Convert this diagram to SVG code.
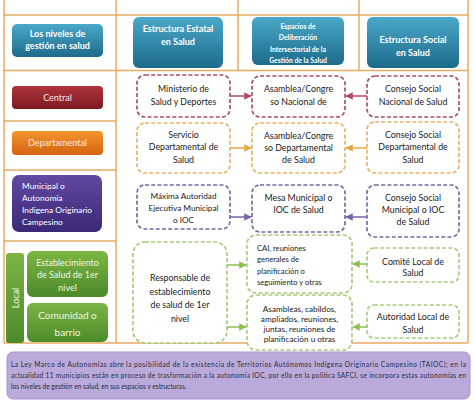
<svg xmlns="http://www.w3.org/2000/svg" width="474" height="401" viewBox="0 0 474 401">
<defs>
<linearGradient id="gTeal" x1="0" y1="0" x2="0" y2="1"><stop offset="0" stop-color="#4aa8c8"/><stop offset="1" stop-color="#1d6b8a"/></linearGradient>
<linearGradient id="gRed" x1="0" y1="0" x2="0" y2="1"><stop offset="0" stop-color="#b0343b"/><stop offset="1" stop-color="#7c1a22"/></linearGradient>
<linearGradient id="gOrange" x1="0" y1="0" x2="0" y2="1"><stop offset="0" stop-color="#f3952e"/><stop offset="1" stop-color="#d4630f"/></linearGradient>
<linearGradient id="gPurple" x1="0" y1="0" x2="0" y2="1"><stop offset="0" stop-color="#6248a2"/><stop offset="1" stop-color="#3b2876"/></linearGradient>
<linearGradient id="gGreen" x1="0" y1="0" x2="0" y2="1"><stop offset="0" stop-color="#7db545"/><stop offset="1" stop-color="#4c8a2a"/></linearGradient>
<marker id="aRed" viewBox="0 0 10 10" refX="9" refY="5" markerWidth="5" markerHeight="5" orient="auto"><path d="M0,0 L10,5 L0,10 z" fill="#b04a5e"/></marker>
<marker id="aOrange" viewBox="0 0 10 10" refX="9" refY="5" markerWidth="5" markerHeight="5" orient="auto"><path d="M0,0 L10,5 L0,10 z" fill="#e8a644"/></marker>
<marker id="aPurple" viewBox="0 0 10 10" refX="9" refY="5" markerWidth="5" markerHeight="5" orient="auto"><path d="M0,0 L10,5 L0,10 z" fill="#7a62aa"/></marker>
<marker id="aGreen" viewBox="0 0 10 10" refX="9" refY="5" markerWidth="5" markerHeight="5" orient="auto"><path d="M0,0 L10,5 L0,10 z" fill="#8cc04e"/></marker>
</defs>
<style>
text{font-family:Lato,"Open Sans","Liberation Sans",sans-serif;}
.grid{stroke:#eaaa62;stroke-width:1.5;fill:none;}
.hd{fill:#fff;font-weight:bold;font-size:9px;text-anchor:middle;}
.hs{fill:#fff;font-weight:bold;font-size:6.8px;text-anchor:middle;}
.lv{fill:#fbe9e6;font-size:9px;text-anchor:middle;}
.lw{fill:#fff;font-size:8.4px;}
.lg{fill:#eef6e2;font-size:9px;text-anchor:middle;}
.bx{fill:#fff;stroke-width:1.7;stroke-dasharray:4 2.2;}
.bRed{stroke:#a8506c;}
.bOrange{stroke:#e6b468;}
.bPurple{stroke:#7a6aa2;}
.bGreen{stroke:#a9cc7c;}
.t{fill:#1a1a1a;font-size:8.8px;text-anchor:middle;}
.ts{fill:#1a1a1a;font-size:7.6px;}
.c{fill:none;stroke-width:1.5;}
.note{fill:#2a2a3a;font-size:6.6px;}
</style>
<rect width="474" height="401" fill="#fff"/>
<g id="grid">
<line class="grid" x1="4" y1="15" x2="468" y2="15"/>
<line class="grid" x1="4" y1="70.5" x2="468" y2="70.5"/>
<line class="grid" x1="4" y1="121" x2="116" y2="121"/>
<line class="grid" x1="4" y1="170" x2="116" y2="170"/>
<line class="grid" x1="4" y1="241" x2="116" y2="241"/>
<line class="grid" x1="4" y1="0" x2="4" y2="343"/>
<line class="grid" x1="116" y1="0" x2="116" y2="343"/>
<line class="grid" x1="238" y1="0" x2="238" y2="70.5"/>
<line class="grid" x1="359" y1="0" x2="359" y2="70.5"/>
<line class="grid" x1="468" y1="0" x2="468" y2="343"/>
<line class="grid" x1="4" y1="343" x2="468" y2="343"/>
</g>
<g id="hdr-niveles"><rect x="12" y="24" width="91" height="33" rx="5" fill="url(#gTeal)"/><text class="hd" x="57.5" y="37">Los niveles de</text><text class="hd" x="57.5" y="48.5">gestión en salud</text></g>
<g id="hdr-estatal"><rect x="133" y="17" width="90" height="51" rx="6" fill="url(#gTeal)"/><text class="hd" x="178" y="32">Estructura Estatal</text><text class="hd" x="178" y="45">en  Salud</text></g>
<g id="hdr-espacios"><rect x="252" y="17" width="92" height="48" rx="6" fill="url(#gTeal)"/><text class="hs" x="298" y="28.5">Espacios de</text><text class="hs" x="298" y="40">Deliberación</text><text class="hs" x="298" y="51.5">Intersectorial de la</text><text class="hs" x="298" y="62.5">Gestión de la Salud</text></g>
<g id="hdr-social"><rect x="367" y="17" width="92" height="51" rx="6" fill="url(#gTeal)"/><text class="hd" x="413" y="43">Estructura Social</text><text class="hd" x="413" y="56">en  Salud</text></g>
<g id="lv-central"><rect x="12" y="86" width="91" height="23" rx="4" fill="url(#gRed)"/><text class="lv" x="57.5" y="100.5">Central</text></g>
<g id="lv-departamental"><rect x="12" y="131" width="91" height="24" rx="4" fill="url(#gOrange)"/><text class="lv" x="57.5" y="146">Departamental</text></g>
<g id="lv-municipal"><rect x="12" y="175" width="90" height="57" rx="7" fill="url(#gPurple)"/><text class="lw" x="22" y="189">Municipal o</text><text class="lw" x="22" y="201">Autonomía</text><text class="lw" x="22" y="213">Indigena Originario</text><text class="lw" x="22" y="225">Campesino</text></g>
<g id="lv-local"><rect x="6" y="253" width="18" height="90" rx="3" fill="url(#gGreen)"/><text class="lg" transform="translate(18.5,298) rotate(-90)">Local</text></g>
<g id="lv-establecimiento"><rect x="27" y="251" width="81" height="46" rx="6" fill="url(#gGreen)"/><text class="lg" x="67.5" y="266">Establecimiento</text><text class="lg" x="67.5" y="278">de Salud de 1er</text><text class="lg" x="67.5" y="290.5">nivel</text></g>
<g id="lv-comunidad"><rect x="27" y="303" width="81" height="39" rx="6" fill="url(#gGreen)"/><text class="lg" x="67.5" y="319" style="font-size:10px">Comunidad o</text><text class="lg" x="67.5" y="336" style="font-size:10px">barrio</text></g>
<g id="n-ministerio"><rect class="bx bRed" x="137" y="75" width="93" height="42" rx="8"/><text class="t" x="183.5" y="92">Ministerio de</text><text class="t" x="183.5" y="105">Salud y Deportes</text></g>
<g id="n-servicio"><rect class="bx bOrange" x="137" y="123" width="93" height="50" rx="8"/><text class="t" x="183.5" y="137.5">Servicio</text><text class="t" x="183.5" y="150">Departamental de</text><text class="t" x="183.5" y="162.5">Salud</text></g>
<g id="n-maxima"><rect class="bx bPurple" x="137" y="185" width="93" height="44" rx="8"/><text class="t" x="183.5" y="198.5" style="font-size:8.2px">Máxima Autoridad</text><text class="t" x="183.5" y="210.5" style="font-size:8.2px">Ejecutiva Municipal</text><text class="t" x="183.5" y="222.5" style="font-size:8.2px">o IOC</text></g>
<g id="n-responsable"><rect class="bx bGreen" x="133" y="242" width="94" height="101" rx="12"/><text class="t" x="180" y="281">Responsable de</text><text class="t" x="180" y="294.5">establecimiento</text><text class="t" x="180" y="308">de salud de 1er</text><text class="t" x="180" y="321.5">nivel</text></g>
<g id="n-asamblea-nac"><rect class="bx bRed" x="252" y="76" width="93" height="41" rx="8"/><text class="t" x="298.5" y="92">Asamblea/Congre</text><text class="t" x="298.5" y="105">so Nacional de</text></g>
<g id="n-asamblea-dep"><rect class="bx bOrange" x="252" y="123" width="93" height="50" rx="8"/><text class="t" x="298.5" y="139">Asamblea/Congre</text><text class="t" x="298.5" y="151">so Departamental</text><text class="t" x="298.5" y="163">de Salud</text></g>
<g id="n-mesa"><rect class="bx bPurple" x="252" y="185" width="93" height="47" rx="8"/><text class="t" x="298.5" y="200.5">Mesa Municipal o</text><text class="t" x="298.5" y="212.5">IOC de Salud</text></g>
<g id="n-cai"><rect class="bx bGreen" x="247" y="235" width="105" height="58" rx="9"/><text class="ts" x="257" y="250.5">CAI, reuniones</text><text class="ts" x="257" y="262">generales de</text><text class="ts" x="257" y="273.5">planificación o</text><text class="ts" x="257" y="285">seguimiento y otras</text></g>
<g id="n-asambleas"><rect class="bx bGreen" x="247" y="295" width="105" height="55" rx="9"/><text class="t" x="299.5" y="311.5" style="font-size:8.2px">Asambleas, cabildos,</text><text class="t" x="299.5" y="321.5" style="font-size:8.2px">ampliados, reuniones,</text><text class="t" x="299.5" y="331.5" style="font-size:8.2px">juntas, reuniones de</text><text class="t" x="299.5" y="341.5" style="font-size:8.2px">planificación u otras</text></g>
<g id="n-consejo-nac"><rect class="bx bRed" x="367" y="76" width="92" height="41" rx="8"/><text class="t" x="413" y="92">Consejo Social</text><text class="t" x="413" y="105">Nacional de Salud</text></g>
<g id="n-consejo-dep"><rect class="bx bOrange" x="367" y="122" width="92" height="51" rx="8"/><text class="t" x="413" y="137.5">Consejo Social</text><text class="t" x="413" y="150">Departamental de</text><text class="t" x="413" y="162.5">Salud</text></g>
<g id="n-consejo-mun"><rect class="bx bPurple" x="367" y="185" width="92" height="52" rx="8"/><text class="t" x="413" y="200.5">Consejo Social</text><text class="t" x="413" y="212.5">Municipal o IOC</text><text class="t" x="413" y="225">de Salud</text></g>
<g id="n-comite"><rect class="bx bGreen" x="367" y="248" width="92" height="34" rx="7"/><text class="t" x="413" y="264.5">Comité Local de</text><text class="t" x="413" y="276">Salud</text></g>
<g id="n-autoridad"><rect class="bx bGreen" x="367" y="305" width="92" height="33" rx="7"/><text class="t" x="413" y="320">Autoridad Local de</text><text class="t" x="413" y="332.5">Salud</text></g>
<g id="connectors">
<line class="c" x1="230" y1="96" x2="251" y2="96" stroke="#b04a5e" marker-end="url(#aRed)"/>
<line class="c" x1="367" y1="96" x2="346" y2="96" stroke="#b04a5e" marker-end="url(#aRed)"/>
<line class="c" x1="230" y1="148" x2="251" y2="148" stroke="#e8a644" marker-end="url(#aOrange)"/>
<line class="c" x1="367" y1="148" x2="346" y2="148" stroke="#e8a644" marker-end="url(#aOrange)"/>
<line class="c" x1="230" y1="217" x2="251" y2="217" stroke="#7a62aa" marker-end="url(#aPurple)"/>
<line class="c" x1="367" y1="217" x2="346" y2="217" stroke="#7a62aa" marker-end="url(#aPurple)"/>
<line class="c" x1="227" y1="265" x2="246" y2="265" stroke="#8cc04e" marker-end="url(#aGreen)"/>
<line class="c" x1="227" y1="327" x2="246" y2="327" stroke="#8cc04e" marker-end="url(#aGreen)"/>
<line class="c" x1="367" y1="264" x2="353" y2="264" stroke="#8cc04e" marker-end="url(#aGreen)"/>
<line class="c" x1="367" y1="327" x2="353" y2="327" stroke="#8cc04e" marker-end="url(#aGreen)"/>
</g>
<g id="note">
<rect x="7" y="352" width="463" height="47" rx="6" fill="#b9aadb" stroke="#a393cf" stroke-width="1"/>
<text class="note" x="11" y="367" textLength="455" lengthAdjust="spacing">La Ley Marco de Autonomías abre la posibilidad de la existencia de Territorios Autónomos Indígena Originario Campesino (TAIOC); en la</text>
<text class="note" x="11" y="378" textLength="455" lengthAdjust="spacing">actualidad 11 municipios están en proceso de trasformación a la autonomía IOC, por ello en la política SAFCI, se incorpora estas autonomías en</text>
<text class="note" x="11" y="389">los niveles de gestión en salud, en sus espacios y estructuras.</text>
</g>
</svg>
